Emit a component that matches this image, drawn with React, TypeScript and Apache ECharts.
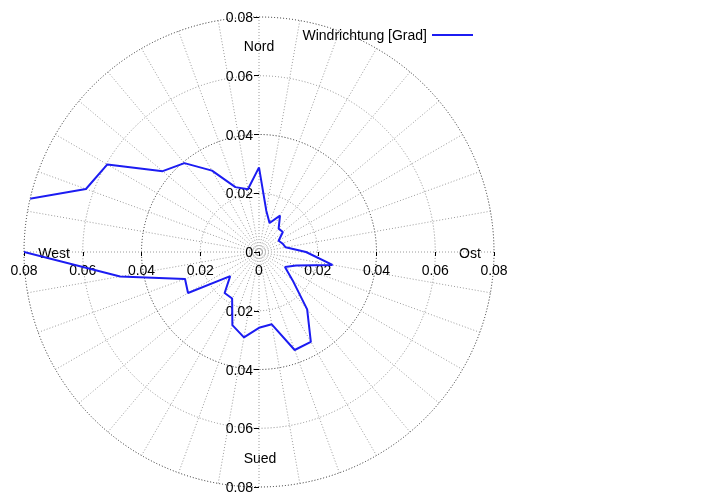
import { useEffect, useRef } from 'react';
import * as echarts from 'echarts';

// wind direction bins (degrees, clockwise from north) and relative frequency
const ANGLES = [
  0, 10, 20, 30, 40, 50, 60, 70, 80, 90, 100, 110, 120, 130, 140, 150, 160, 170,
  180, 190, 200, 210, 220, 230, 240, 250, 260, 270, 280, 290, 300, 310, 320, 330,
  340, 350, 360,
];
const FREQ = [
  0.0288, 0.0143, 0.0105, 0.0143, 0.0104, 0.0106, 0.0077, 0.0085, 0.0092, 0.016,
  0.0254, 0.0135, 0.0102, 0.0149, 0.0255, 0.0353, 0.0355, 0.025, 0.0258, 0.0295,
  0.0265, 0.0183, 0.0182, 0.0128, 0.0279, 0.0268, 0.048, 0.08, 0.092, 0.0627,
  0.0596, 0.0428, 0.0395, 0.032, 0.0235, 0.0217, 0.0288,
];
const COMPASS = ['Nord', 'Ost', 'Sued', 'West'];
const SERIES_NAME = 'Windrichtung [Grad]';

const FONT = 'Liberation Sans';
const INK = '#000';
const BLUE = '#1c1cf2';

const fmtTick = (v: number) => (Math.abs(v) < 1e-9 ? '0' : Math.abs(v).toFixed(2));

export default function App() {
  const ref = useRef<HTMLDivElement | null>(null);

  useEffect(() => {
    if (!ref.current) return;
    const chart = echarts.init(ref.current, undefined, { renderer: 'svg' });

    const cx = 259;
    const cy = 252;
    const R = 235;

    const axisBase = {
      type: 'value',
      min: -0.08,
      max: 0.08,
      interval: 0.02,
      offset: -R,
      axisLine: { show: false, onZero: false },
      splitLine: { show: false },
    };

    chart.setOption({
      animation: false,
      textStyle: { fontFamily: FONT },
      polar: { center: [cx, cy], radius: R },
      angleAxis: {
        type: 'value',
        min: 0,
        max: 360,
        interval: 10,
        startAngle: 90,
        clockwise: true,
        axisLine: { show: false },
        axisTick: { show: false },
        axisLabel: { show: false },
        splitLine: { lineStyle: { color: '#9a9a9a', type: [1, 2], width: 1 } },
      },
      radiusAxis: {
        type: 'value',
        min: 0,
        max: 0.08,
        interval: 0.02,
        axisLine: { show: false },
        axisTick: { show: false },
        axisLabel: { show: false },
        splitLine: { lineStyle: { color: ['#222', '#8c8c8c'], type: [1, 2], width: 1 } },
      },
      grid: { left: cx - R, top: cy - R, width: 2 * R, height: 2 * R },
      xAxis: {
        ...axisBase,
        position: 'bottom',
        axisTick: { show: true, length: 4, lineStyle: { color: INK } },
        axisLabel: { formatter: fmtTick, color: INK, fontSize: 14, fontFamily: FONT, margin: 11 },
      },
      yAxis: {
        ...axisBase,
        position: 'left',
        axisTick: { show: true, length: 5, lineStyle: { color: INK } },
        axisLabel: { formatter: fmtTick, color: INK, fontSize: 14, fontFamily: FONT, margin: 6 },
      },
      legend: {
        right: 720 - 478,
        top: 23,
        align: 'right',
        itemWidth: 41,
        itemHeight: 2,
        textStyle: { color: INK, fontSize: 14, fontFamily: FONT },
        data: [{ name: SERIES_NAME, icon: 'rect', itemStyle: { color: BLUE } }],
      },
      graphic: [
        { type: 'text', x: cx, y: cy - 206, style: { text: COMPASS[0] } },
        { type: 'text', x: cx + 211, y: cy + 1, style: { text: COMPASS[1] } },
        { type: 'text', x: cx + 1, y: cy + 206, style: { text: COMPASS[2] } },
        { type: 'text', x: cx - 205, y: cy + 1, style: { text: COMPASS[3] } },
      ].map((g) => ({
        ...g,
        style: {
          ...g.style,
          fill: INK,
          font: `14px "${FONT}"`,
          textAlign: 'center',
          textVerticalAlign: 'middle',
        },
      })),
      series: [
        {
          name: SERIES_NAME,
          type: 'line',
          coordinateSystem: 'polar',
          data: ANGLES.map((a, i) => [FREQ[i], a]),
          symbol: 'none',
          clip: true,
          lineStyle: { color: BLUE, width: 2 },
          itemStyle: { color: BLUE },
          z: 5,
        },
      ],
    });

    return () => chart.dispose();
  }, []);

  return <div ref={ref} style={{ position: 'fixed', left: 0, top: 0, width: 720, height: 504 }} />;
}
